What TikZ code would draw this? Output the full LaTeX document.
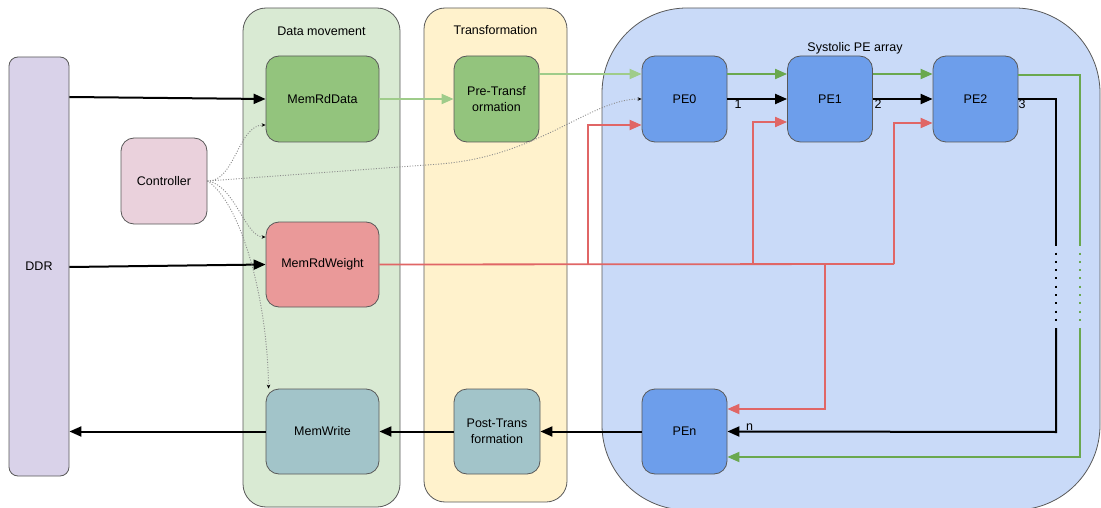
\documentclass[tikz,border=0pt]{standalone}
\usepackage{fontspec}
\setmainfont{Liberation Sans}
\usetikzlibrary{arrows.meta}

\definecolor{ddrfill}{HTML}{D9D2E9}
\definecolor{ctrlfill}{HTML}{EAD1DC}
\definecolor{dmfill}{HTML}{D9EAD3}
\definecolor{trfill}{HTML}{FFF2CC}
\definecolor{safill}{HTML}{C9DAF8}
\definecolor{pefill}{HTML}{6D9EEB}
\definecolor{rdfill}{HTML}{93C47D}
\definecolor{wtfill}{HTML}{EA9999}
\definecolor{wrfill}{HTML}{A2C4C9}
\definecolor{redline}{HTML}{E06666}
\definecolor{greenline}{HTML}{6AA84F}
\definecolor{lightgreen}{HTML}{9FCC8A}
\definecolor{edge}{HTML}{595959}
\definecolor{ctlgray}{HTML}{8C8C8C}

\tikzset{
  box/.style={draw=edge, line width=0.8pt, rounded corners=13pt, inner sep=0pt,
    align=center, font=\fontsize{12.5}{15.5}\selectfont},
  group/.style={draw=edge, line width=0.8pt, inner sep=0pt},
  label/.style={font=\fontsize{12.5}{15}\selectfont, inner sep=0pt},
  bigtip/.style={-{Triangle[length=12pt,width=10pt]}},
  blk/.style={draw=black, line width=2pt, bigtip},
  grn/.style={draw=greenline, line width=1.8pt, bigtip},
  lgrn/.style={draw=lightgreen, line width=1.8pt, bigtip},
  rd/.style={draw=redline, line width=1.8pt},
  rdarr/.style={rd, bigtip},
  ctl/.style={draw=ctlgray, line width=0.9pt, dash pattern=on 1pt off 1.6pt,
    -{Stealth[length=4pt,width=3.5pt,color=black]}},
  dots/.style={line width=2pt, dash pattern=on 2pt off 6.3pt},
}

\begin{document}
\begin{tikzpicture}[x=1pt,y=-1pt]
\useasboundingbox (0,0) rectangle (1101,508);
\clip (0,0) rectangle (1101,508);

% group containers
\node[group, fill=dmfill, rounded corners=23pt, minimum width=157pt, minimum height=499pt] (dm) at (321.5,257.5) {};
\node[group, fill=trfill, rounded corners=21pt, minimum width=143pt, minimum height=494pt] (tr) at (495.5,255) {};
\node[group, fill=safill, rounded corners=85pt, minimum width=498pt, minimum height=502pt] (sa) at (851,259) {};

\node[label] (dmtitle) at (321.5,31) {Data movement};
\node[label] (trtitle) at (495.5,30.5) {Transformation};
\node[label] (satitle) at (855,48) {Systolic PE array};

% off-chip memory and controller
\node[box, fill=ddrfill, rounded corners=9pt, minimum width=60pt, minimum height=419pt] (ddr) at (39,266.5) {DDR};
\node[box, fill=ctrlfill, minimum width=86pt, minimum height=86pt] (ctrl) at (164,181) {Controller};

% data movement units
\node[box, fill=rdfill, minimum width=113pt, minimum height=86pt] (mrd) at (322.5,99) {MemRdData};
\node[box, fill=wtfill, minimum width=113pt, minimum height=85pt] (mrw) at (322.5,264.5) {MemRdWeight};
\node[box, fill=wrfill, minimum width=113pt, minimum height=85pt] (mw) at (322.5,431.5) {MemWrite};

% transformation units
\node[box, fill=rdfill, minimum width=85pt, minimum height=86pt] (pre) at (496.5,99) {Pre-Transf\\ormation};
\node[box, fill=wrfill, minimum width=86pt, minimum height=85pt] (post) at (497,431.5) {Post-Trans\\formation};

% processing elements
\node[box, fill=pefill, minimum width=85pt, minimum height=86pt] (pe0) at (684.5,99) {PE0};
\node[box, fill=pefill, minimum width=85pt, minimum height=86pt] (pe1) at (830,99) {PE1};
\node[box, fill=pefill, minimum width=85pt, minimum height=86pt] (pe2) at (975.5,99) {PE2};
\node[box, fill=pefill, minimum width=85pt, minimum height=85pt] (pen) at (684.5,431.5) {PEn};

% memory traffic
\draw[blk] (ddr.east |- 0,97) -- (mrd.west);
\draw[blk] (ddr.east |- 0,267) -- (mrw.west);
\draw[blk] (mw.west) -- (ddr.east |- mw.west);
\draw[blk] (post.west) -- (mw.east);
\draw[blk] (pen.west) -- (post.east);

% input data path
\draw[lgrn] (mrd.east) -- (pre.west);
\draw[lgrn] (pre.east |- 0,74) -- (pe0.west |- 0,74);
\draw[grn] (pe0.east |- 0,74) -- (pe1.west |- 0,74);
\draw[grn] (pe1.east |- 0,74) -- (pe2.west |- 0,74);

% partial results chain
\draw[blk] (pe0.east) -- (pe1.west);
\draw[blk] (pe1.east) -- (pe2.west);
\node[label] (l1) at (738,104) {1};
\node[label] (l2) at (878,104) {2};
\node[label] (l3) at (1022,104) {3};

\coordinate (bk1) at (1056,99);
\coordinate (bk2) at (1056,246);
\coordinate (bk3) at (1056,328);
\coordinate (bk4) at (1056,432);
\draw[black, line width=2pt] (pe2.east) -- (bk1) -- (bk2);
\draw[black, dots] (1056,252.5) -- (1056,321);
\draw[blk] (bk3) -- (bk4) -- (pen.east);
\node[label, anchor=west] (ln) at (746,427) {n};

\coordinate (gk1) at (1080,75);
\coordinate (gk2) at (1080,246);
\coordinate (gk3) at (1080,328);
\coordinate (gk4) at (1080,457);
\draw[greenline, line width=1.8pt] (pe2.east |- gk1) -- (gk1) -- (gk2);
\draw[greenline, dots] (1080,252.5) -- (1080,321);
\draw[grn] (gk3) -- (gk4) -- (pen.east |- gk4);

% weight distribution
\coordinate (w0) at (588,264);
\coordinate (w1) at (753,264);
\coordinate (wn) at (825,264);
\coordinate (w2) at (894,264);
\draw[rd] (mrw.east) -- (w2);
\draw[rdarr] (w0) -- (w0 |- 0,125) -- (pe0.west |- 0,125);
\draw[rdarr] (w1) -- (w1 |- 0,122) -- (pe1.west |- 0,122);
\draw[rdarr] (w2) -- (w2 |- 0,123) -- (pe2.west |- 0,123);
\draw[rdarr] (wn) -- (wn |- 0,409) -- (pen.east |- 0,409);

% control signals
\draw[ctl] (ctrl.east) .. controls (235,182) and (238,125) .. (mrd.west |- 0,125);
\draw[ctl] (ctrl.east) -- (440,164) .. controls (540,156) and (590,99) .. (pe0.west);
\draw[ctl] (ctrl.east) .. controls (235,185) and (245,237) .. (mrw.west |- 0,237);
\draw[ctl] (ctrl.east) .. controls (238,200) and (267,290) .. ([xshift=3pt]mw.north west);
\end{tikzpicture}
\end{document}
